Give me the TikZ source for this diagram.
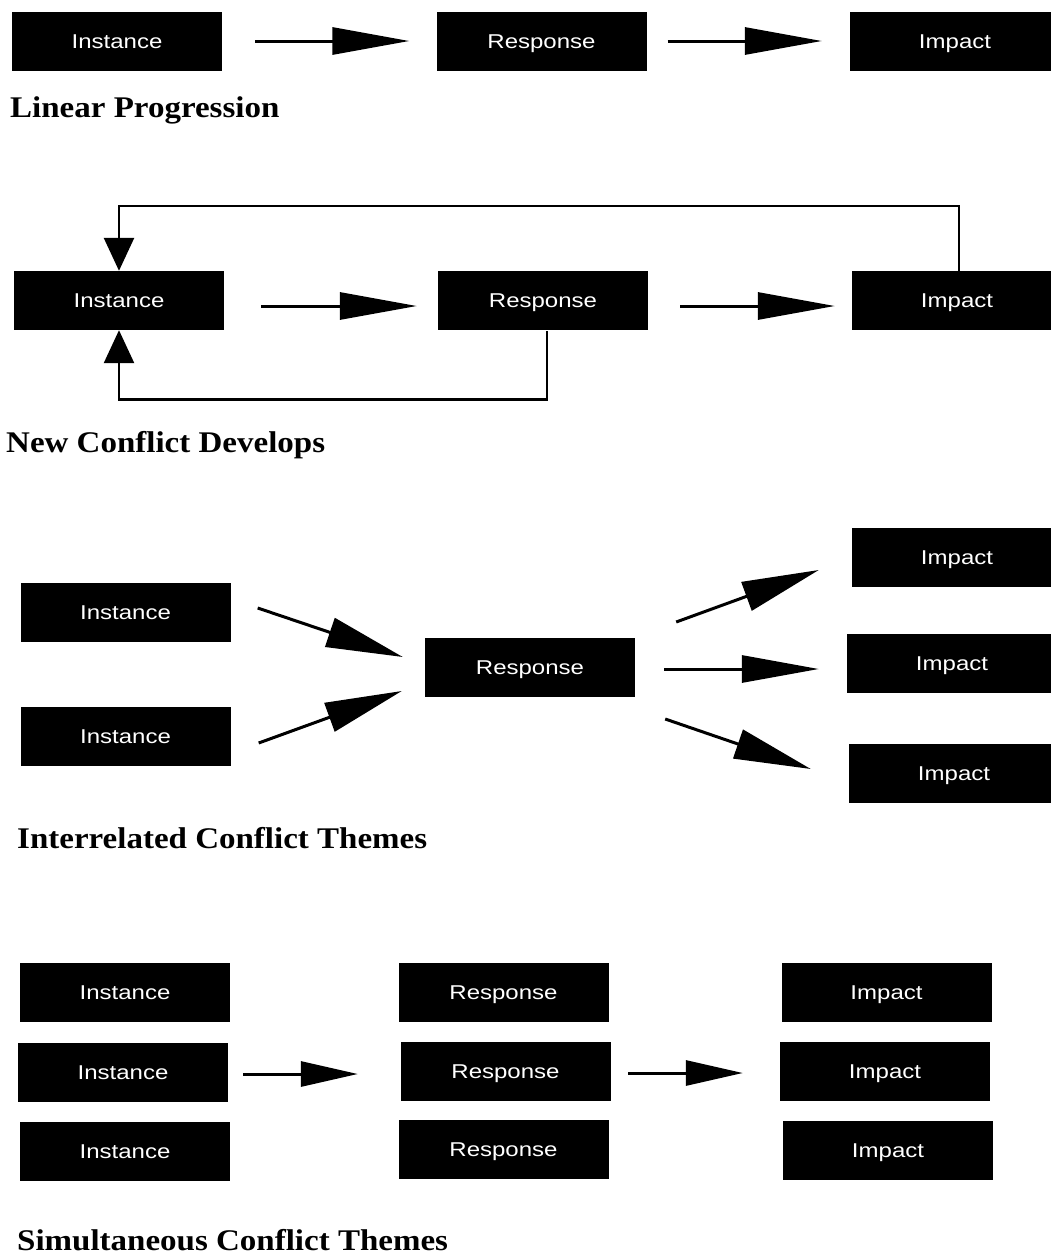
\documentclass[tikz,border=0pt]{standalone}
\usepackage{fontspec}
\usetikzlibrary{arrows.meta}
\newfontfamily\boxfont[FakeStretch=1.2]{Liberation Sans}
\newfontfamily\titlefont[FakeStretch=1.1]{Liberation Serif}
\tikzset{
  box/.style={fill=black, text=white, minimum width=210pt, minimum height=59pt,
    inner sep=0pt, text height=14.3pt, text depth=0pt,
    font=\boxfont\fontsize{20}{24}\selectfont},
  title/.style={anchor=base west, inner sep=0pt,
    font=\titlefont\bfseries\fontsize{30}{34}\selectfont},
  bigarrow/.style={line width=3pt, -{Triangle[length=77pt,width=27pt]}},
  diagarrow/.style={line width=3pt, -{Triangle[length=77pt,width=30pt]}},
  midarrow/.style={line width=3pt, -{Triangle[length=57pt,width=25pt]}},
  fbline/.style={line width=2.6pt, line join=miter},
  fbarrow/.style={fbline, -{Triangle[length=33pt,width=30pt]}},
}
\begin{document}
\begin{tikzpicture}[x=1pt,y=-1pt]
\clip (0,0) rectangle (1051,1256);
\fill[white] (0,0) rectangle (1051,1256);

% Linear Progression
\node[box] (i1) at (117,41) {Instance};
\node[box] (r1) at (541.5,41) {Response};
\node[box] (p1) at (955,41) {Impact};
\draw[bigarrow] ([shift={(33,0)}]i1.east) -- ([shift={(-27,0)}]r1.west);
\draw[bigarrow] ([shift={(21,0)}]r1.east) -- ([shift={(-28,0)}]p1.west);
\node[title] (t1) at (10,117) {Linear Progression};

% New Conflict Develops
\node[box] (i2) at (119,300.5) {Instance};
\node[box] (r2) at (543,300.5) {Response};
\node[box] (p2) at (957,300.5) {Impact};
\draw[bigarrow] ([shift={(37,5.5)}]i2.east) -- ([shift={(-21,5.5)}]r2.west);
\draw[bigarrow] ([shift={(32,5.5)}]r2.east) -- ([shift={(-17,5.5)}]p2.west);
\draw[fbarrow] ([shift={(2,0)}]p2.north) -- ++(0,-65) -| (i2.north);
\draw[fbarrow] ([shift={(4,1)}]r2.south) -- ++(0,68.5) -| (i2.south);
\node[title] (t2) at (6,452) {New Conflict Develops};

% Interrelated Conflict Themes
\node[box] (ia) at (125.5,612) {Instance};
\node[box] (ib) at (125.5,736) {Instance};
\node[box] (r3) at (530,667) {Response};
\node[box] (pa) at (957,557) {Impact};
\node[box] (pb) at (952,663.5) {Impact};
\node[box] (pc) at (954,773) {Impact};
\draw[diagarrow] ([shift={(27,-4)}]ia.east) -- ([shift={(-22,-10)}]r3.west);
\draw[diagarrow] ([shift={(28,7)}]ib.east) -- ([shift={(-23,24)}]r3.west);
\draw[diagarrow] ([shift={(41,-45)}]r3.east) -- ([shift={(-33,13)}]pa.west);
\draw[bigarrow] ([shift={(29,2)}]r3.east) -- ([shift={(-28,5.5)}]pb.west);
\draw[diagarrow] ([shift={(30,52)}]r3.east) -- ([shift={(-38,-4)}]pc.west);
\node[title] (t3) at (17,848) {Interrelated Conflict Themes};

% Simultaneous Conflict Themes
\node[box] (i4a) at (125,992.5) {Instance};
\node[box] (i4b) at (123,1072) {Instance};
\node[box] (i4c) at (125,1151.5) {Instance};
\node[box] (r4a) at (503.5,992.5) {Response};
\node[box] (r4b) at (505.5,1071.5) {Response};
\node[box] (r4c) at (503.5,1149.5) {Response};
\node[box] (p4a) at (886.5,992.5) {Impact};
\node[box] (p4b) at (885,1071.5) {Impact};
\node[box] (p4c) at (888,1150.5) {Impact};
\draw[midarrow] ([shift={(15,2)}]i4b.east) -- ([shift={(-42.5,2.5)}]r4b.west);
\draw[midarrow] ([shift={(17.5,1.5)}]r4b.east) -- ([shift={(-37,1.5)}]p4b.west);
\node[title] (t4) at (17,1250) {Simultaneous Conflict Themes};
\end{tikzpicture}
\end{document}
